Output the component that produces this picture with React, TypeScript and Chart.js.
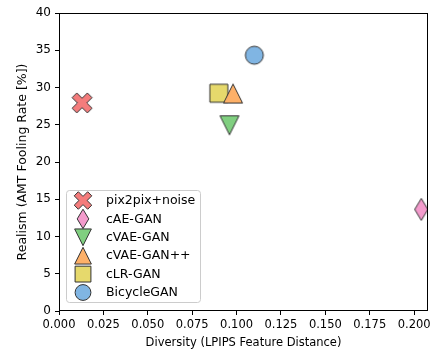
import React, { useEffect, useRef } from 'react';
import { Chart, registerables } from 'chart.js';

Chart.register(...registerables);

const methods = ['pix2pix+noise', 'cAE-GAN', 'cVAE-GAN', 'cVAE-GAN++', 'cLR-GAN', 'BicycleGAN'];
const diversity = [0.013, 0.204, 0.096, 0.098, 0.090, 0.110];
const realism = [27.93, 13.64, 24.93, 29.19, 29.23, 34.33];
const markerKinds = ['X', 'thinDiamond', 'triangleDown', 'triangleUp', 'square', 'circle'];
const markerColors = ['#f47c7c', '#f39bcc', '#80cf80', '#fdb068', '#e6d96c', '#80b5e3'];
const xTicks = [0, 0.025, 0.05, 0.075, 0.1, 0.125, 0.15, 0.175, 0.2];
const yTicks = [0, 5, 10, 15, 20, 25, 30, 35, 40];

const FONT = '"DejaVu Sans", sans-serif';
const EDGE = '#333333';

function markerPath(ctx: CanvasRenderingContext2D, kind: string) {
  ctx.beginPath();
  if (kind === 'circle') {
    ctx.arc(0, 0, 9, 0, Math.PI * 2);
    return;
  }
  let pts: number[][] = [];
  if (kind === 'X') {
    const a = 3.3, L = 10.8;
    const base = [
      [-a, -L], [a, -L], [a, -a], [L, -a], [L, a], [a, a],
      [a, L], [-a, L], [-a, a], [-L, a], [-L, -a], [-a, -a],
    ];
    const c = Math.cos(Math.PI / 4), s = Math.sin(Math.PI / 4);
    pts = base.map(([x, y]) => [x * c - y * s, x * s + y * c]);
  } else if (kind === 'thinDiamond') {
    pts = [[0, -11], [6.6, 0], [0, 11], [-6.6, 0]];
  } else if (kind === 'triangleDown') {
    pts = [[-9.5, -9.5], [9.5, -9.5], [0, 9.5]];
  } else if (kind === 'triangleUp') {
    pts = [[0, -9.5], [9.5, 9.5], [-9.5, 9.5]];
  } else {
    pts = [[-9, -9], [9, -9], [9, 9], [-9, 9]];
  }
  pts.forEach(([x, y], i) => (i === 0 ? ctx.moveTo(x, y) : ctx.lineTo(x, y)));
  ctx.closePath();
}

function drawMarker(ctx: CanvasRenderingContext2D, kind: string, fill: string, cx: number, cy: number, scale: number) {
  ctx.save();
  ctx.translate(cx, cy);
  ctx.scale(scale, scale);
  markerPath(ctx, kind);
  ctx.fillStyle = fill;
  ctx.fill();
  ctx.strokeStyle = EDGE;
  ctx.lineWidth = 1 / scale;
  ctx.stroke();
  ctx.restore();
}

function makeMarker(kind: string, fill: string): HTMLCanvasElement {
  const c = document.createElement('canvas');
  c.width = 30;
  c.height = 30;
  const ctx = c.getContext('2d')!;
  drawMarker(ctx, kind, fill, 15, 15, 1);
  return c;
}

const framePlugin = {
  id: 'frame',
  afterDatasetsDraw(chart: any) {
    const { ctx, chartArea: a } = chart;
    ctx.save();
    ctx.strokeStyle = '#000';
    ctx.lineWidth = 1;
    const l = Math.round(a.left) + 0.5;
    const t = Math.round(a.top) + 0.5;
    const r = Math.round(a.right) - 0.5;
    const b = Math.round(a.bottom) - 0.5;
    ctx.strokeRect(l, t, r - l, b - t);
    ctx.restore();
  },
};

const legendPlugin = {
  id: 'innerLegend',
  afterDraw(chart: any) {
    const { ctx, chartArea: a } = chart;
    const x0 = a.left + 7;
    const w = 134;
    const h = 112;
    const y0 = a.bottom - 9 - h;
    ctx.save();
    ctx.beginPath();
    ctx.roundRect(x0 + 0.5, y0 + 0.5, w, h, 3);
    ctx.fillStyle = 'rgba(255,255,255,0.8)';
    ctx.fill();
    ctx.strokeStyle = '#cccccc';
    ctx.lineWidth = 1;
    ctx.stroke();
    ctx.font = `12.5px ${FONT}`;
    ctx.fillStyle = '#000';
    ctx.textBaseline = 'middle';
    ctx.textAlign = 'left';
    chart.data.datasets.forEach((ds: any, i: number) => {
      const cy = y0 + 10.5 + i * 18.4;
      drawMarker(ctx, markerKinds[i], markerColors[i], x0 + 17, cy, 0.88);
      ctx.fillText(ds.label, x0 + 40, cy + 0.5);
    });
    ctx.restore();
  },
};

export default function App() {
  const ref = useRef<HTMLCanvasElement>(null);
  useEffect(() => {
    const canvas = ref.current!;
    const datasets = methods.map((m, i) => ({
      label: m,
      data: [{ x: diversity[i], y: realism[i] }],
      pointStyle: makeMarker(markerKinds[i], markerColors[i]),
      pointRadius: 10,
      backgroundColor: markerColors[i],
      borderColor: EDGE,
    }));
    const tickFont = { family: FONT, size: 11.5 };
    const chart = new Chart(canvas, {
      type: 'scatter',
      data: { datasets },
      plugins: [framePlugin, legendPlugin],
      options: {
        animation: false,
        responsive: false,
        devicePixelRatio: 1,
        layout: { padding: { left: 0, top: 13, right: 6, bottom: 0 } },
        plugins: { legend: { display: false }, tooltip: { enabled: false } },
        scales: {
          x: {
            type: 'linear',
            min: 0,
            max: 0.2078,
            afterBuildTicks: (s: any) => {
              s.ticks = xTicks.map((v) => ({ value: v }));
            },
            afterFit: (s: any) => {
              s.height = 41;
            },
            ticks: {
              callback: (v: any) => Number(v).toFixed(3),
              font: tickFont,
              color: '#000',
              padding: 3,
              maxRotation: 0,
              autoSkip: false,
            },
            grid: { drawOnChartArea: false, drawTicks: true, tickLength: 4, color: '#000' },
            border: { display: false },
            title: {
              display: true,
              text: 'Diversity (LPIPS Feature Distance)',
              font: tickFont,
              color: '#000',
              padding: { top: 0, bottom: 2 },
            },
          },
          y: {
            type: 'linear',
            min: 0,
            max: 40,
            afterBuildTicks: (s: any) => {
              s.ticks = yTicks.map((v) => ({ value: v }));
            },
            afterFit: (s: any) => {
              s.width = 59;
            },
            ticks: {
              callback: (v: any) => String(v),
              font: { family: FONT, size: 12 },
              color: '#000',
              padding: 4,
              autoSkip: false,
            },
            grid: { drawOnChartArea: false, drawTicks: true, tickLength: 4, color: '#000' },
            border: { display: false },
            title: {
              display: true,
              text: 'Realism (AMT Fooling Rate [%])',
              font: { family: FONT, size: 12.5 },
              color: '#000',
              padding: { top: 15, bottom: 0 },
            },
          },
        },
      },
    } as any);
    return () => chart.destroy();
  }, []);
  return (
    <div style={{ position: 'absolute', left: 0, top: 0, width: 439, height: 352, background: '#fff' }}>
      <canvas ref={ref} width={439} height={352} style={{ width: 439, height: 352, display: 'block' }} />
    </div>
  );
}
